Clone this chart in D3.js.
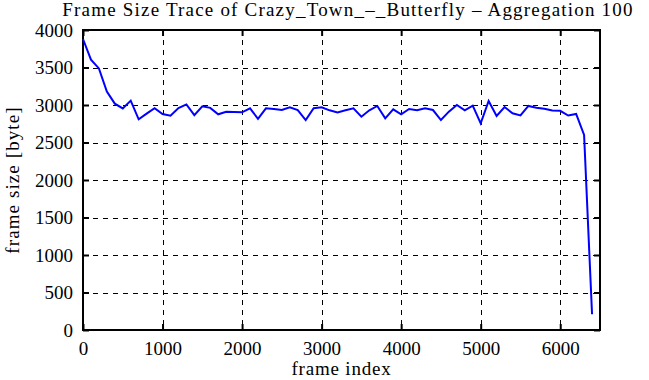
<!DOCTYPE html>
<html>
<head>
<meta charset="utf-8">
<script src="https://cdn.jsdelivr.net/npm/d3@7"></script>
<style>
  body { margin: 0; background: #fff; }
  text { font-family: "Liberation Serif", "Times New Roman", serif; fill: #000; }
  .grid line { stroke: #000; stroke-width: 1; stroke-dasharray: 5,5; shape-rendering: crispEdges; }
  .line { fill: none; stroke: #0000ff; stroke-width: 2; }
</style>
</head>
<body>
<div id="chart"></div>
<script>
// frame index (aggregation 100)
var frameIndex = [0,100,200,300,400,500,600,700,800,900,1000,1100,1200,1300,1400,1500,1600,1700,1800,1900,
  2000,2100,2200,2300,2400,2500,2600,2700,2800,2900,3000,3100,3200,3300,3400,3500,3600,3700,3800,3900,
  4000,4100,4200,4300,4400,4500,4600,4700,4800,4900,5000,5100,5200,5300,5400,5500,5600,5700,5800,5900,
  6000,6100,6200,6300,6400];

// frame size [byte]
var frameSize = [3880,3605,3488,3180,3018,2954,3058,2809,2885,2958,2880,2857,2960,3008,2865,2982,2962,2876,2909,2907,
  2902,2956,2816,2956,2947,2933,2969,2933,2800,2956,2970,2929,2902,2929,2956,2844,2929,2987,2822,2942,
  2876,2947,2929,2956,2933,2800,2911,3000,2929,2991,2756,3053,2853,2973,2889,2862,2987,2964,2949,2927,
  2922,2860,2880,2600,210];

var xTicks = [0,1000,2000,3000,4000,5000,6000];
var yTicks = [0,500,1000,1500,2000,2500,3000,3500,4000];

var data = frameIndex.map(function(d, i) { return {idx: d, size: frameSize[i]}; });

// set the dimensions and margins of the graph
var margin = {top: 30, right: 49, bottom: 50, left: 83},
    width = 649 - margin.left - margin.right,
    height = 380 - margin.top - margin.bottom;

var x = d3.scaleLinear().domain([0, 6500]).range([0, width]);
var y = d3.scaleLinear().domain([0, 4000]).range([height, 0]);

var svg = d3.select("#chart").append("svg")
    .attr("width", 649)
    .attr("height", 380);

var g = svg.append("g")
    .attr("transform", "translate(" + margin.left + "," + margin.top + ")");

// grid lines
g.append("g")
    .attr("class", "grid")
    .selectAll("line")
    .data(xTicks.filter(function(d) { return d > 0; }))
    .enter().append("line")
    .attr("x1", function(d) { return Math.round(x(d)) + 0.5; })
    .attr("x2", function(d) { return Math.round(x(d)) + 0.5; })
    .attr("y1", 0)
    .attr("y2", height);

g.append("g")
    .attr("class", "grid")
    .selectAll("line")
    .data(yTicks.filter(function(d) { return d > 0 && d < 4000; }))
    .enter().append("line")
    .attr("y1", function(d) { return Math.round(y(d)) + 0.5; })
    .attr("y2", function(d) { return Math.round(y(d)) + 0.5; })
    .attr("x1", 0)
    .attr("x2", width);

// inward ticks on all four sides
function styleAxis(sel) {
  sel.attr("font-family", null).attr("font-size", null);
  sel.select(".domain").remove();
  sel.selectAll(".tick line").attr("stroke", "#000").attr("stroke-width", 2);
  sel.selectAll(".tick text").style("font-size", "19px");
}

g.append("g")
    .attr("transform", "translate(0," + height + ")")
    .call(d3.axisBottom(x).tickValues(xTicks).tickSize(-6).tickPadding(12).tickFormat(d3.format("d")))
    .call(styleAxis);

g.append("g")
    .call(d3.axisTop(x).tickValues(xTicks).tickSize(-6).tickFormat(""))
    .call(styleAxis);

g.append("g")
    .call(d3.axisLeft(y).tickValues(yTicks).tickSize(-6).tickPadding(10).tickFormat(d3.format("d")))
    .call(styleAxis);

g.append("g")
    .attr("transform", "translate(" + width + ",0)")
    .call(d3.axisRight(y).tickValues(yTicks).tickSize(-6).tickFormat(""))
    .call(styleAxis);

// frame border
g.append("rect")
    .attr("width", width)
    .attr("height", height)
    .attr("fill", "none")
    .attr("stroke", "#000")
    .attr("stroke-width", 2);

// the trace
var line = d3.line()
    .x(function(d) { return x(d.idx); })
    .y(function(d) { return y(d.size); });

g.append("path")
    .datum(data)
    .attr("class", "line")
    .attr("d", line);

// title and axis labels
svg.append("text")
    .attr("x", 348)
    .attr("y", 16)
    .attr("text-anchor", "middle")
    .style("font-size", "19px")
    .style("letter-spacing", "1.2px")
    .text("Frame Size Trace of Crazy_Town_\u2013_Butterfly \u2013 Aggregation 100");

svg.append("text")
    .attr("x", margin.left + width / 2)
    .attr("y", 375)
    .attr("text-anchor", "middle")
    .style("font-size", "19px")
    .style("letter-spacing", "0.8px")
    .text("frame index");

svg.append("text")
    .attr("transform", "translate(19," + (margin.top + height / 2) + ") rotate(-90)")
    .attr("text-anchor", "middle")
    .style("font-size", "19px")
    .style("letter-spacing", "1.1px")
    .text("frame size [byte]");
</script>
</body>
</html>
